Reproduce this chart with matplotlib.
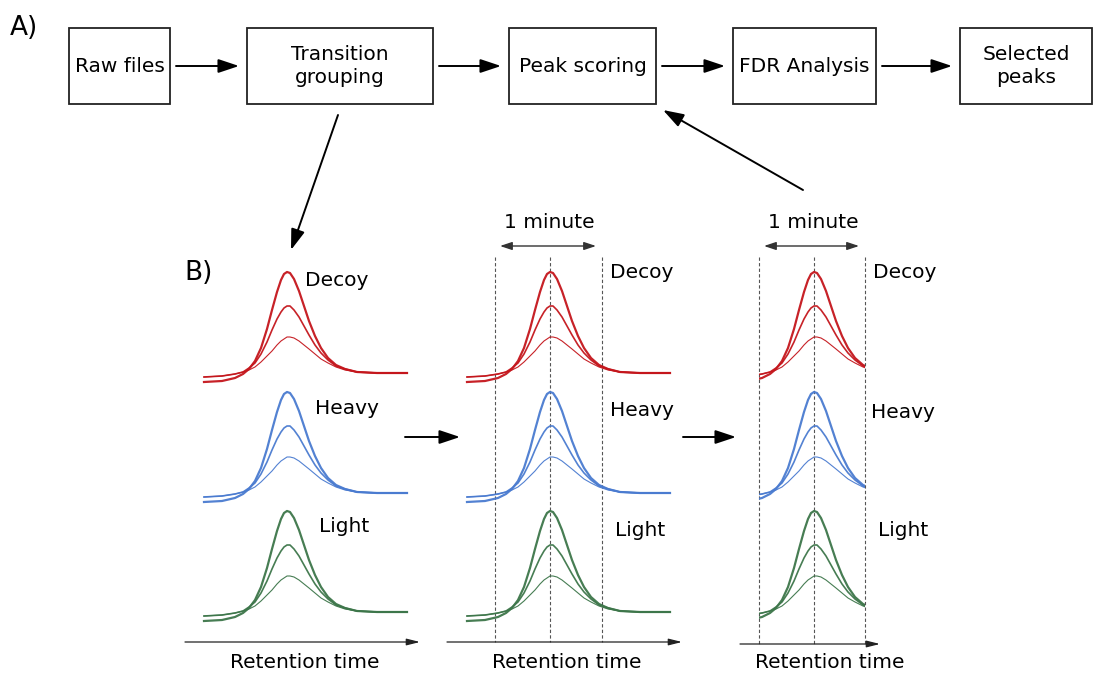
import matplotlib.pyplot as plt
from matplotlib.patches import Rectangle

# flow chart (part A)
box_labels = ['Raw files', 'Transition\ngrouping', 'Peak scoring', 'FDR Analysis', 'Selected\npeaks']

# chromatogram traces: offset from apex (px) and height above baseline (px)
trace_dx = [-83, -65, -52, -44, -38, -32, -26, -20, -15, -10, -6, -3, 0,
            3, 7, 12, 17, 22, 28, 34, 41, 49, 58, 70, 90, 120]
trace_tall = [-9, -8, -5, -1, 4, 12, 25, 44, 63, 81, 93, 99, 101,
              100, 94, 82, 67, 52, 37, 25, 15, 8, 4, 1, 0, 0]
trace_mid = [-4, -3, -1, 1, 5, 10, 19, 31, 43, 54, 61, 65, 67,
             67, 63, 56, 47, 38, 28, 20, 13, 7, 4, 1, 0, 0]
trace_small = [-4, -3, -1, 1, 3, 6, 11, 17, 22, 28, 32, 34, 36,
               36, 35, 32, 28, 24, 19, 14, 10, 6, 3, 1, 0, 0]

row_names = ['Decoy', 'Heavy', 'Light']
row_colors = ['#c4161c', '#4a7bd0', '#3d764a']

# layout in pixels
box_x = [(69, 170), (247, 433), (509, 656), (733, 876), (960, 1092)]
box_y = (28, 104)
apex_x = [287, 550, 814]
baselines = [373, 493, 612]
label_x = [[337, 347, 344], [642, 642, 640], [905, 903, 903]]
label_y = [[280, 409, 527], [272, 411, 530], [273, 413, 531]]

fig = plt.figure(figsize=(11.02, 6.73), dpi=100)
ax = fig.add_axes([0, 0, 1, 1])
ax.set_xlim(0, 1102)
ax.set_ylim(673, 0)
ax.axis('off')

fs = 14.5
arr = dict(arrowstyle='-|>,head_length=0.9,head_width=0.3', color='black', lw=1.4,
           shrinkA=0, shrinkB=0, mutation_scale=14)

ax.text(10, 28, 'A)', fontsize=19, va='center', ha='left')
ax.text(184, 273, 'B)', fontsize=19, va='center', ha='left')

for (x0, x1), lab in zip(box_x, box_labels):
    ax.add_patch(Rectangle((x0, box_y[0]), x1 - x0, box_y[1] - box_y[0],
                           fill=False, lw=1.3, ec='#222222'))
    ax.text((x0 + x1) / 2, (box_y[0] + box_y[1]) / 2, lab, fontsize=fs,
            ha='center', va='center', linespacing=1.25)

ymid = (box_y[0] + box_y[1]) / 2
for i in range(len(box_x) - 1):
    ax.annotate('', xy=(box_x[i + 1][0] - 8, ymid), xytext=(box_x[i][1] + 6, ymid), arrowprops=arr)

ax.annotate('', xy=(291, 250), xytext=(338, 115), arrowprops=arr)
ax.annotate('', xy=(663, 110), xytext=(803, 190), arrowprops=arr)

# arrows between the three panels
ax.annotate('', xy=(460, 437), xytext=(405, 437), arrowprops=arr)
ax.annotate('', xy=(736, 437), xytext=(683, 437), arrowprops=arr)

# panel windows (dashed lines) for panels 2 and 3
windows = [None, (495, 602), (759, 865)]
axis_x = [(185, 420), (447, 682), (740, 880)]
axis_y = [642, 642, 644]
rt_x = [305, 567, 830]

lws = [1.6, 1.2, 0.8]
traces = [trace_tall, trace_mid, trace_small]

for p in range(3):
    cx = apex_x[p]
    clip = None
    if windows[p] is not None:
        w0, w1 = windows[p]
        for xv in (w0, cx, w1):
            ax.plot([xv, xv], [257, axis_y[p]], ls=(0, (3, 2)), color='#555555', lw=0.8)
        ax.annotate('', xy=(w1 - 6, 246), xytext=(w0 + 5, 246),
                    arrowprops=dict(arrowstyle='<|-|>,head_length=0.6,head_width=0.2',
                                    color='#333333', lw=1.0, shrinkA=0, shrinkB=0, mutation_scale=12))
        ax.text((w0 + w1) / 2 + 1, 223, '1 minute', fontsize=fs, ha='center', va='center')
        if p == 2:
            clip = Rectangle((w0, 0), w1 - w0, 673, transform=ax.transData)
    for r in range(3):
        base = baselines[r]
        for t, lw in zip(traces, lws):
            xs = [cx + d for d in trace_dx]
            ys = [base - h for h in t]
            ln, = ax.plot(xs, ys, color=row_colors[r], lw=lw, solid_joinstyle='round', alpha=0.95)
            if clip is not None:
                ln.set_clip_path(clip)
        ax.text(label_x[p][r], label_y[p][r], row_names[r], fontsize=fs, ha='center', va='center')
    ax.annotate('', xy=(axis_x[p][1], axis_y[p]), xytext=(axis_x[p][0], axis_y[p]),
                arrowprops=dict(arrowstyle='-|>,head_length=0.8,head_width=0.2', color='#222222',
                                lw=0.9, shrinkA=0, shrinkB=0, mutation_scale=10))
    ax.text(rt_x[p], 663, 'Retention time', fontsize=fs, ha='center', va='center')

fig.savefig('out.png', dpi=100)
